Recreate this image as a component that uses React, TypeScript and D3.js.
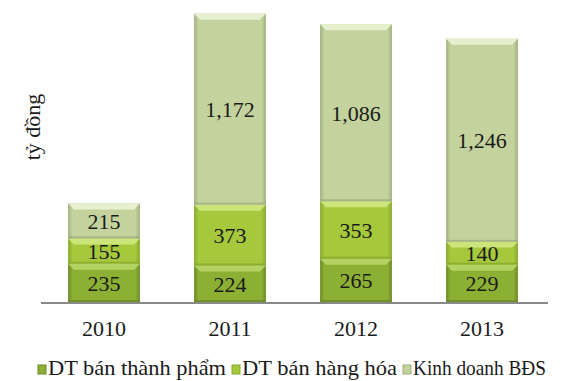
import React from "react";
import * as d3 from "d3";

const years = ["2010", "2011", "2012", "2013"];
const thanhPham = [235, 224, 265, 229];
const hangHoa = [155, 373, 353, 140];
const bds = [215, 1172, 1086, 1246];
const seriesNames = ["DT bán thành phẩm", "DT bán hàng hóa", "Kinh doanh BĐS"];
const seriesColors = ["#8cb034", "#a6c83c", "#c4d39e"];
const seriesLight = ["#b4d262", "#cbe57a", "#e6f0cf"];
const seriesDark = ["#6c8a26", "#87a82c", "#9fae7e"];

const W = 582, H = 381;
const baseline = 302;
const x = d3.scaleBand().domain(years).range([41, 545]).paddingInner(0.43).paddingOuter(0.215);
const y = d3.scaleLinear().domain([0, 2000]).range([baseline, baseline - 326]);

export default function App() {
  const series = [thanhPham, hangHoa, bds];
  const stacked = d3.stack<any>().keys(["0", "1", "2"])(
    years.map((_, i) => ({ "0": series[0][i], "1": series[1][i], "2": series[2][i] }))
  );
  const fmt = d3.format(",");
  const font = "Times New Roman";
  const bw = x.bandwidth();
  const legendX = [38, 232, 403];
  const legendLen = [178, 155, 133];
  return (
    <svg width={W} height={H} style={{ position: "absolute", left: 0, top: 0, background: "#fff" }}>
      <defs>
        {seriesColors.map((c, k) => (
          <linearGradient key={k} id={"g" + k} x1="0" x2="1" y1="0" y2="0">
            <stop offset="0" stopColor={seriesDark[k]} />
            <stop offset="0.06" stopColor={c} />
            <stop offset="0.94" stopColor={c} />
            <stop offset="1" stopColor={seriesDark[k]} />
          </linearGradient>
        ))}
      </defs>
      {stacked.map((s, k) => (
        <g key={k}>
          {s.map((d, i) => {
            const x0 = x(years[i])!;
            const yt = y(d[1]);
            const yb = y(d[0]);
            const h = yb - yt;
            const bev = Math.min(6, h / 4);
            return (
              <g key={i}>
                <rect x={x0} y={yt} width={bw} height={h} fill={`url(#g${k})`} />
                <polygon
                  points={`${x0},${yt} ${x0 + bw},${yt} ${x0 + bw - bev},${yt + bev} ${x0 + bev},${yt + bev}`}
                  fill={seriesLight[k]}
                />
                <rect x={x0} y={yb - 2} width={bw} height={2} fill={seriesDark[k]} opacity={0.8} />
                <text
                  x={x0 + bw / 2}
                  y={(yt + yb) / 2 + 8}
                  textAnchor="middle"
                  style={{ fontFamily: font, fontSize: 22 }}
                  fill="#1a1a1a"
                >
                  {fmt(series[k][i])}
                </text>
              </g>
            );
          })}
        </g>
      ))}
      <line x1={41} x2={548} y1={baseline + 1} y2={baseline + 1} stroke="#8a8a8a" strokeWidth={2} />
      {years.map((yr) => (
        <text key={yr} x={x(yr)! + bw / 2} y={336} textAnchor="middle" style={{ fontFamily: font, fontSize: 22 }} fill="#1a1a1a">
          {yr}
        </text>
      ))}
      <text
        transform={`translate(40,127) rotate(-90)`}
        textAnchor="middle"
        style={{ fontFamily: font, fontSize: 22 }}
        fill="#1a1a1a"
      >
        tỷ đồng
      </text>
      {seriesNames.map((n, k) => (
        <g key={n}>
          <rect x={legendX[k]} y={365} width={8} height={9} fill={seriesColors[k]} stroke={seriesDark[k]} strokeWidth={1} />
          <text
            x={legendX[k] + 10}
            y={375}
            textLength={legendLen[k]}
            lengthAdjust="spacingAndGlyphs"
            style={{ fontFamily: font, fontSize: 21 }}
            fill="#1a1a1a"
          >
            {n}
          </text>
        </g>
      ))}
    </svg>
  );
}
